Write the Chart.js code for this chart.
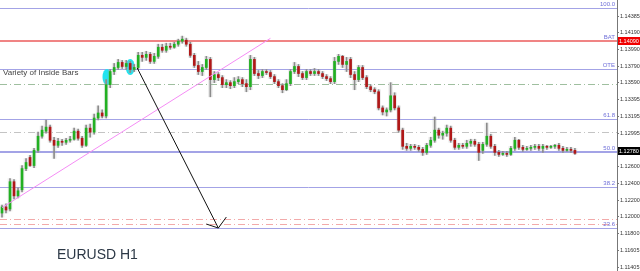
<!DOCTYPE html>
<html>
<head>
<meta charset="utf-8">
<script src="https://cdn.jsdelivr.net/npm/chart.js@4.4.0/dist/chart.umd.min.js"></script>
<style>
  html, body { margin: 0; padding: 0; background: #fff; }
  #wrap { position: relative; width: 640px; height: 271px; }
</style>
</head>
<body>
<div id="wrap"><canvas id="chart"></canvas></div>
<script>
// EURUSD H1 candles
const opens = [
  1.12046, 1.12118, 1.12094, 1.12418, 1.12250, 1.12322, 1.12574, 1.12706,
  1.12610, 1.12790, 1.12958, 1.13018, 1.13066, 1.12910, 1.12850, 1.12898,
  1.12886, 1.12910, 1.12922, 1.13018, 1.12934, 1.12850, 1.13054, 1.13006,
  1.13174, 1.13234, 1.13198, 1.13570, 1.13726, 1.13774, 1.13834, 1.13786,
  1.13822, 1.13750, 1.13774, 1.13918, 1.13894, 1.13930, 1.13846, 1.13906,
  1.14014, 1.13978, 1.14026, 1.14014, 1.14050, 1.14086, 1.14098, 1.14050,
  1.13918, 1.13798, 1.13726, 1.13774, 1.13870, 1.13630, 1.13690, 1.13654,
  1.13570, 1.13594, 1.13558, 1.13606, 1.13630, 1.13582, 1.13546, 1.13870,
  1.13702, 1.13678, 1.13726, 1.13714, 1.13666, 1.13606, 1.13558, 1.13510,
  1.13582, 1.13726, 1.13786, 1.13702, 1.13654, 1.13726, 1.13702, 1.13726,
  1.13702, 1.13666, 1.13642, 1.13606, 1.13846, 1.13906, 1.13810, 1.13870,
  1.13690, 1.13630, 1.13774, 1.13654, 1.13546, 1.13510, 1.13486, 1.13294,
  1.13246, 1.13270, 1.13438, 1.13294, 1.13030, 1.12838, 1.12814, 1.12838,
  1.12826, 1.12802, 1.12766, 1.12850, 1.12910, 1.13030, 1.12970, 1.12994,
  1.13054, 1.12910, 1.12826, 1.12850, 1.12838, 1.12874, 1.12898, 1.12862,
  1.12790, 1.12862, 1.12958, 1.12838, 1.12766, 1.12742, 1.12754, 1.12742,
  1.12814, 1.12910, 1.12826, 1.12802, 1.12814, 1.12826, 1.12838, 1.12814,
  1.12838, 1.12826, 1.12838, 1.12850, 1.12814, 1.12790, 1.12802, 1.12790
];
const highs = [
  1.12142, 1.12154, 1.12454, 1.12442, 1.12346, 1.12610, 1.12694, 1.12730,
  1.12814, 1.13006, 1.13078, 1.13150, 1.13090, 1.12946, 1.12934, 1.12922,
  1.12934, 1.12958, 1.13054, 1.13042, 1.12958, 1.13090, 1.13102, 1.13222,
  1.13318, 1.13270, 1.13630, 1.13750, 1.13822, 1.13870, 1.13858, 1.13858,
  1.13846, 1.13810, 1.13954, 1.13954, 1.13966, 1.13954, 1.13942, 1.14050,
  1.14050, 1.14062, 1.14062, 1.14074, 1.14110, 1.14146, 1.14122, 1.14074,
  1.13942, 1.13846, 1.13810, 1.13906, 1.13894, 1.13726, 1.13714, 1.13678,
  1.13630, 1.13618, 1.13654, 1.13666, 1.13654, 1.13630, 1.13918, 1.13894,
  1.13738, 1.13750, 1.13750, 1.13738, 1.13690, 1.13630, 1.13582, 1.13630,
  1.13750, 1.13834, 1.13810, 1.13726, 1.13750, 1.13750, 1.13762, 1.13750,
  1.13726, 1.13690, 1.13666, 1.13894, 1.13930, 1.13918, 1.13894, 1.13894,
  1.13726, 1.13798, 1.13798, 1.13678, 1.13570, 1.13534, 1.13510, 1.13318,
  1.13294, 1.13594, 1.13474, 1.13318, 1.13054, 1.12874, 1.12862, 1.12862,
  1.12850, 1.12826, 1.12874, 1.12946, 1.13186, 1.13054, 1.13018, 1.13090,
  1.13078, 1.12934, 1.12874, 1.12874, 1.12910, 1.12922, 1.12922, 1.12886,
  1.12886, 1.13114, 1.12982, 1.12862, 1.12790, 1.12778, 1.12778, 1.12838,
  1.12946, 1.12922, 1.12850, 1.12838, 1.12850, 1.12862, 1.12862, 1.12862,
  1.12850, 1.12850, 1.12862, 1.12874, 1.12838, 1.12826, 1.12826, 1.12814
];
const lows = [
  1.11998, 1.12046, 1.12070, 1.12214, 1.12226, 1.12298, 1.12550, 1.12598,
  1.12586, 1.12766, 1.12934, 1.12994, 1.12886, 1.12694, 1.12826, 1.12850,
  1.12862, 1.12886, 1.12910, 1.12910, 1.12826, 1.12838, 1.12946, 1.12982,
  1.13150, 1.13174, 1.13174, 1.13534, 1.13690, 1.13750, 1.13762, 1.13750,
  1.13714, 1.13726, 1.13750, 1.13846, 1.13858, 1.13822, 1.13822, 1.13882,
  1.13954, 1.13954, 1.13990, 1.14002, 1.14026, 1.14062, 1.14026, 1.13894,
  1.13774, 1.13690, 1.13678, 1.13750, 1.13426, 1.13594, 1.13618, 1.13534,
  1.13534, 1.13522, 1.13534, 1.13582, 1.13546, 1.13486, 1.13510, 1.13678,
  1.13642, 1.13654, 1.13690, 1.13642, 1.13582, 1.13534, 1.13474, 1.13498,
  1.13558, 1.13702, 1.13666, 1.13630, 1.13630, 1.13678, 1.13678, 1.13678,
  1.13642, 1.13618, 1.13582, 1.13582, 1.13810, 1.13774, 1.13726, 1.13654,
  1.13510, 1.13606, 1.13630, 1.13522, 1.13486, 1.13462, 1.13270, 1.13210,
  1.13198, 1.13246, 1.13270, 1.13006, 1.12802, 1.12790, 1.12790, 1.12802,
  1.12778, 1.12730, 1.12742, 1.12826, 1.12886, 1.12934, 1.12922, 1.12958,
  1.12886, 1.12802, 1.12802, 1.12814, 1.12814, 1.12838, 1.12838, 1.12670,
  1.12754, 1.12838, 1.12814, 1.12730, 1.12718, 1.12730, 1.12718, 1.12730,
  1.12790, 1.12802, 1.12778, 1.12790, 1.12790, 1.12802, 1.12790, 1.12766,
  1.12802, 1.12814, 1.12814, 1.12790, 1.12766, 1.12778, 1.12766, 1.12742
];
const closes = [
  1.12118, 1.12082, 1.12418, 1.12250, 1.12310, 1.12574, 1.12646, 1.12610,
  1.12790, 1.12958, 1.13030, 1.13066, 1.12910, 1.12850, 1.12898, 1.12886,
  1.12910, 1.12922, 1.13018, 1.12934, 1.12850, 1.13054, 1.13006, 1.13174,
  1.13234, 1.13198, 1.13570, 1.13726, 1.13774, 1.13834, 1.13786, 1.13822,
  1.13750, 1.13774, 1.13918, 1.13894, 1.13930, 1.13846, 1.13906, 1.14014,
  1.13978, 1.14026, 1.14014, 1.14050, 1.14086, 1.14110, 1.14050, 1.13918,
  1.13798, 1.13726, 1.13774, 1.13870, 1.13630, 1.13690, 1.13654, 1.13570,
  1.13594, 1.13558, 1.13606, 1.13630, 1.13582, 1.13546, 1.13870, 1.13702,
  1.13678, 1.13726, 1.13714, 1.13666, 1.13606, 1.13558, 1.13510, 1.13582,
  1.13726, 1.13786, 1.13702, 1.13654, 1.13726, 1.13702, 1.13726, 1.13702,
  1.13666, 1.13642, 1.13606, 1.13846, 1.13906, 1.13810, 1.13846, 1.13690,
  1.13630, 1.13774, 1.13654, 1.13546, 1.13510, 1.13486, 1.13294, 1.13246,
  1.13270, 1.13438, 1.13294, 1.13030, 1.12838, 1.12814, 1.12838, 1.12826,
  1.12802, 1.12766, 1.12850, 1.12910, 1.13030, 1.12970, 1.12994, 1.13054,
  1.12910, 1.12826, 1.12850, 1.12838, 1.12874, 1.12898, 1.12862, 1.12766,
  1.12862, 1.12958, 1.12838, 1.12766, 1.12742, 1.12754, 1.12742, 1.12814,
  1.12910, 1.12826, 1.12802, 1.12814, 1.12826, 1.12838, 1.12814, 1.12838,
  1.12826, 1.12838, 1.12850, 1.12814, 1.12790, 1.12802, 1.12790, 1.12754
];
const shiftSlots = 10; // empty space right of the last bar

const priceTicks = [1.14385, 1.14190, 1.13990, 1.13790, 1.13590, 1.13395, 1.13195,
  1.12995, 1.12800, 1.12600, 1.12400, 1.12200, 1.12000, 1.11800, 1.11605, 1.11405];
const fibNames = ['100.0', 'BAT', 'OTE', '61.8', '50.0', '38.2', '23.6'];
const fibPrices = [1.14480, 1.14090, 1.13756, 1.13162, 1.12770, 1.12355, 1.11868];
const dashPrices = [1.13578, 1.13008, 1.11975, 1.11915];
const currentPrice = 1.12780;
const trendLine = [[0, 1.12110], [67, 1.14120]];   // [bar index, price]
const arrowLine = [[33.75, 1.13768], [54, 1.11868]];
const insideBarMarks = [[26.2, 1.13661], [32, 1.13780]];

const labels = opens.map((_, i) => 'H' + i);
for (let i = 0; i < shiftSlots; i++) labels.push('');
const bodies = opens.map((o, i) => [o, closes[i]]);
const wicks = lows.map((l, i) => [l, highs[i]]);

const overlay = {
  id: 'overlay',
  beforeDatasetsDraw(chart) {
    const { ctx, chartArea: a, scales: { x, y } } = chart;
    ctx.save();
    // dash-dot levels
    const dashColors = ['#9fbf9f', '#c4c4c4', '#f2aaaa', '#f2aaaa'];
    ctx.setLineDash([7, 3, 1, 3]);
    ctx.lineWidth = 1;
    dashPrices.forEach((p, i) => {
      const py = Math.round(y.getPixelForValue(p)) + 0.5;
      ctx.strokeStyle = dashColors[i];
      ctx.beginPath(); ctx.moveTo(a.left, py); ctx.lineTo(a.right, py); ctx.stroke();
    });
    ctx.setLineDash([]);
    // fib levels
    fibPrices.forEach((p, i) => {
      const py = Math.round(y.getPixelForValue(p));
      if (fibNames[i] === 'BAT') {
        ctx.strokeStyle = '#f08484'; ctx.lineWidth = 2;
        ctx.beginPath(); ctx.moveTo(a.left, py); ctx.lineTo(a.right, py); ctx.stroke();
      } else {
        ctx.strokeStyle = '#a3a3e6';
        ctx.lineWidth = fibNames[i] === '50.0' ? 2 : 1;
        const off = fibNames[i] === '50.0' ? 0 : 0.5;
        ctx.beginPath(); ctx.moveTo(a.left, py + off); ctx.lineTo(a.right, py + off); ctx.stroke();
      }
    });
    // inside bar highlights
    ctx.fillStyle = '#22e3ef';
    insideBarMarks.forEach(([i, p]) => {
      ctx.beginPath();
      ctx.ellipse(x.getPixelForValue(i), y.getPixelForValue(p), 4.5, 8, 0, 0, Math.PI * 2);
      ctx.fill();
    });
    ctx.restore();
  },
  afterDatasetsDraw(chart) {
    const { ctx, chartArea: a, scales: { x, y } } = chart;
    ctx.save();
    // trend line
    ctx.strokeStyle = '#f58cf5';
    ctx.lineWidth = 1;
    ctx.beginPath();
    ctx.moveTo(x.getPixelForValue(trendLine[0][0]), y.getPixelForValue(trendLine[0][1]));
    ctx.lineTo(x.getPixelForValue(trendLine[1][0]), y.getPixelForValue(trendLine[1][1]));
    ctx.stroke();
    // arrow
    const x0 = x.getPixelForValue(arrowLine[0][0]), y0 = y.getPixelForValue(arrowLine[0][1]);
    const x1 = x.getPixelForValue(arrowLine[1][0]), y1 = y.getPixelForValue(arrowLine[1][1]);
    ctx.strokeStyle = '#111';
    ctx.beginPath(); ctx.moveTo(x0, y0); ctx.lineTo(x1, y1);
    ctx.lineTo(x1 + 8, y1 - 11);
    ctx.moveTo(x1, y1); ctx.lineTo(x1 - 12, y1 - 4);
    ctx.stroke();
    // fib names
    ctx.font = '6px "Liberation Sans"';
    ctx.textAlign = 'right';
    ctx.textBaseline = 'bottom';
    ctx.fillStyle = '#6e6ed8';
    fibPrices.forEach((p, i) => {
      ctx.fillText(fibNames[i], a.right - 2, Math.round(y.getPixelForValue(p)) - 1);
    });
    // notes
    ctx.textAlign = 'left';
    ctx.textBaseline = 'middle';
    ctx.fillStyle = '#444';
    ctx.font = '8px "Liberation Sans"';
    ctx.fillText('Variety of Inside Bars', 3, 73);
    ctx.fillStyle = '#2c3846';
    ctx.font = '14px "Liberation Sans"';
    ctx.fillText('EURUSD H1', 57, 255);
    ctx.restore();
  },
  afterDraw(chart) {
    const { ctx, chartArea: a, scales: { y } } = chart;
    ctx.save();
    ctx.font = '5.5px "Liberation Sans"';
    ctx.textAlign = 'left';
    ctx.textBaseline = 'middle';
    [[fibPrices[fibNames.indexOf('BAT')], '#f00000'], [currentPrice, '#000']].forEach(([p, c]) => {
      const py = Math.round(y.getPixelForValue(p));
      ctx.fillStyle = c;
      ctx.fillRect(a.right + 1, py - 4, 22, 8);
      ctx.fillStyle = '#fff';
      ctx.fillText(p.toFixed(5), a.right + 2, py);
    });
    ctx.restore();
  }
};

new Chart(document.getElementById('chart'), {
  type: 'bar',
  data: {
    labels: labels,
    datasets: [
      {
        data: bodies,
        backgroundColor: ctx => (closes[ctx.dataIndex] >= opens[ctx.dataIndex] ? '#22b022' : '#b01818'),
        barThickness: 2,
        minBarLength: 1,
        grouped: false,
        order: 0
      },
      {
        data: wicks,
        backgroundColor: '#8c8c8c',
        barThickness: 1,
        grouped: false,
        order: 1
      },
      {
        data: wicks,
        backgroundColor: 'rgba(175,175,175,0.22)',
        barThickness: 4,
        grouped: false,
        order: 2
      }
    ]
  },
  options: {
    responsive: true,
    maintainAspectRatio: false,
    animation: false,
    layout: { padding: 0 },
    plugins: { legend: { display: false }, tooltip: { enabled: false } },
    scales: {
      x: { type: 'category', display: false, offset: true },
      y: {
        position: 'right',
        min: 1.11358,
        max: 1.14575,
        afterBuildTicks: scale => { scale.ticks = priceTicks.map(v => ({ value: v })); },
        afterFit: scale => { scale.width = 23; scale.paddingTop = 0; scale.paddingBottom = 0; },
        grid: { drawOnChartArea: false, tickLength: 2, color: '#777' },
        border: { display: true, color: '#777' },
        ticks: {
          autoSkip: false,
          padding: 1,
          color: '#333',
          font: { family: 'Liberation Sans', size: 5.5 },
          callback: v => Number(v).toFixed(5)
        }
      }
    }
  },
  plugins: [overlay]
});
</script>
</body>
</html>
